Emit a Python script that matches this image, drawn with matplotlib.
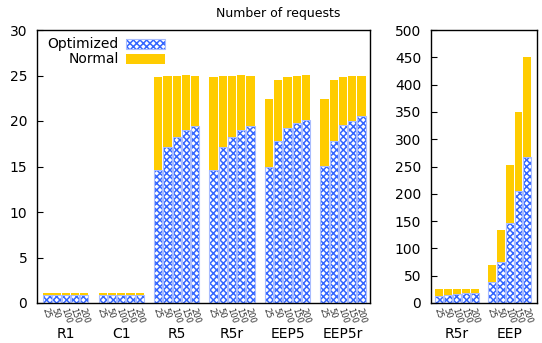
import numpy as np
import matplotlib
matplotlib.use("Agg")
import matplotlib.pyplot as plt
import matplotlib.transforms as mtransforms
from matplotlib.patches import Rectangle

plt.rcParams['hatch.linewidth'] = 1.1

sizes = ['25', '50', '100', '150', '200']

# left panel
left_groups = ['R1', 'C1', 'R5', 'R5r', 'EEP5', 'EEP5r']
left_opt = [
    [0.93, 0.93, 0.93, 0.93, 0.93],
    [0.93, 0.93, 0.93, 0.93, 0.93],
    [14.6, 17.1, 18.2, 19.0, 19.5],
    [14.6, 17.1, 18.2, 19.0, 19.5],
    [14.95, 17.75, 19.25, 19.8, 20.15],
    [15.05, 17.75, 19.55, 20.0, 20.55],
]
left_total = [
    [1.05, 1.05, 1.05, 1.05, 1.05],
    [1.05, 1.05, 1.05, 1.05, 1.05],
    [24.85, 25.0, 25.0, 25.0, 25.0],
    [24.85, 25.0, 25.0, 25.0, 25.0],
    [22.45, 24.5, 24.85, 25.0, 25.0],
    [22.45, 24.5, 24.85, 25.0, 25.0],
]

# right panel
right_groups = ['R5r', 'EEP']
right_opt = [
    [13.5, 15.0, 16.5, 17.7, 19.0],
    [39, 76, 147, 206, 268],
]
right_total = [
    [26, 26, 26, 26, 26],
    [70, 134, 252, 349, 450],
]

blue = '#3366ff'
pale = '#a8bcff'
yellow = '#ffcc00'
width = 0.9

fig = plt.figure(figsize=(5.42, 3.43), dpi=100)
ax1 = fig.add_axes([37/542, 1-303/343, 333/542, 273/343])
ax2 = fig.add_axes([431/542, 1-303/343, 106/542, 273/343])


def draw(ax, groups, opt, total):
    base = mtransforms.blended_transform_factory(ax.transData, ax.transAxes)
    small = mtransforms.offset_copy(base, fig=fig, x=0, y=-5, units='dots')
    big = mtransforms.offset_copy(base, fig=fig, x=0, y=-31, units='dots')
    for g in range(len(groups)):
        x = np.arange(5) + 6*g
        o = np.array(opt[g])
        t = np.array(total[g])
        ax.bar(x, o, width, color='white', edgecolor=blue, hatch='xxxxx',
               linewidth=0)
        ax.bar(x, o, width, fill=False, edgecolor=pale, linewidth=0.8)
        ax.bar(x, t - o, width, bottom=o, color=yellow, linewidth=0)
        for xi, s in zip(x, sizes):
            ax.text(xi - 0.3, 0, s, transform=small, rotation=-72,
                    rotation_mode='anchor', ha='left', va='center',
                    fontsize=6, color='#333333', clip_on=False)
        ax.text(x.mean(), 0, groups[g], transform=big, ha='center',
                va='center', fontsize=10, clip_on=False)
    ax.set_xticks([])
    ax.tick_params(axis='y', direction='in', length=4, labelsize=10,
                   pad=7)
    for sp in ax.spines.values():
        sp.set_linewidth(1.0)


draw(ax1, left_groups, left_opt, left_total)
draw(ax2, right_groups, right_opt, right_total)

ax1.set_xlim(-1.12, 34.93)
ax1.set_ylim(0, 30)
ax1.set_yticks(range(0, 31, 5))
ax2.set_xlim(-0.95, 11.1)
ax2.set_ylim(0, 500)
ax2.set_yticks(range(0, 501, 50))

# key in the upper left
ax1.text(0.246, 0.95, 'Optimized', transform=ax1.transAxes, ha='right',
         va='center', fontsize=10)
ax1.text(0.246, 0.895, 'Normal', transform=ax1.transAxes, ha='right',
         va='center', fontsize=10)
ax1.add_patch(Rectangle((0.268, 0.93), 0.117, 0.036, transform=ax1.transAxes,
                        facecolor='white', edgecolor=blue, hatch='xxxxx',
                        linewidth=0))
ax1.add_patch(Rectangle((0.268, 0.93), 0.117, 0.036, transform=ax1.transAxes,
                        fill=False, edgecolor=pale, linewidth=0.8))
ax1.add_patch(Rectangle((0.268, 0.877), 0.117, 0.036, transform=ax1.transAxes,
                        facecolor=yellow, linewidth=0))

fig.text(278/542, 1-13/343, 'Number of requests', ha='center', va='center',
         fontsize=9)

fig.savefig('out.png', dpi=100)
